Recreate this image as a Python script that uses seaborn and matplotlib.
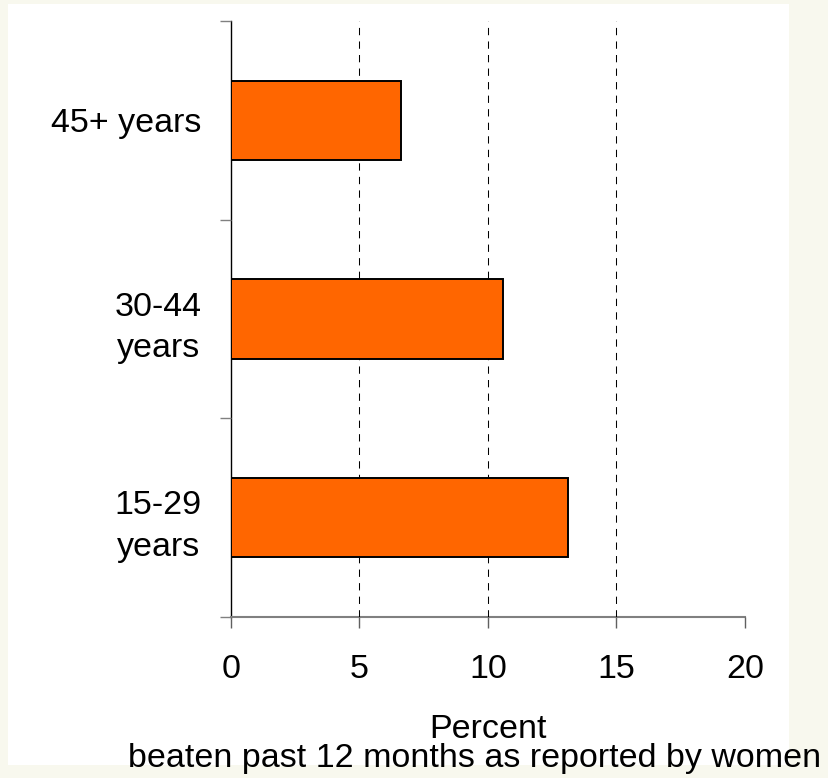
import matplotlib
matplotlib.use('Agg')
import matplotlib.pyplot as plt
import matplotlib.patches as mpatches
import seaborn as sns
import pandas as pd

# data, top to bottom
age_groups = ['45+ years', '30-44\nyears', '15-29\nyears']
percent = [6.6, 10.6, 13.1]

sns.set_style('white')
plt.rcParams['font.family'] = ['Liberation Sans', 'DejaVu Sans']
plt.rcParams['text.color'] = 'black'
plt.rcParams['xtick.color'] = 'black'
plt.rcParams['ytick.color'] = 'black'
plt.rcParams['axes.labelcolor'] = 'black'

df = pd.DataFrame({'age': age_groups, 'percent': percent})

W, H = 829, 778
FS = 24.5
fig = plt.figure(figsize=(W / 100, H / 100), dpi=100, facecolor='#F8F8EE')
# white plot area
fig.patches.append(mpatches.Rectangle((8 / W, 1 - 765 / H), (789 - 8) / W, (765 - 4) / H,
                                      transform=fig.transFigure, facecolor='white',
                                      edgecolor='none', zorder=-5))

ax = fig.add_axes([231 / W, 1 - 617 / H, (745 - 231) / W, (617 - 21) / H])
ax.set_facecolor('none')

sns.barplot(data=df, x='percent', y='age', orient='h', color='#FF6600',
            saturation=1, width=0.4, edgecolor='black', linewidth=1.4, ax=ax, zorder=3)

ax.set_xlim(0, 20)
ax.set_ylim(2.5, -0.5)
ax.set_xticks([0, 5, 10, 15, 20])
ax.set_xticklabels(['0', '5', '10', '15', '20'], fontsize=FS)

ax.set_yticks([-0.5, 0.5, 1.5, 2.5])
ax.set_yticklabels([])
ax.set_yticks([0, 1, 2], minor=True)
ax.set_yticklabels(age_groups, minor=True, fontsize=FS, multialignment='center')
for lab in ax.get_yticklabels(minor=True):
    lab.set_linespacing(1.45)
ax.tick_params(axis='y', which='minor', length=0, pad=21)
ax.tick_params(axis='y', which='major', length=8, width=1, color='#808080', left=True)
ax.tick_params(axis='x', length=8, width=1, color='#606060', bottom=True, pad=19)

# dashed vertical grid
ax.xaxis.grid(True, color='black', linewidth=0.75, linestyle=(0, (7, 6)))
ax.yaxis.grid(False)
gl = ax.get_xgridlines()
gl[0].set_visible(False)
gl[-1].set_visible(False)
ax.set_axisbelow(False)

for s in ['top', 'right']:
    ax.spines[s].set_visible(False)
ax.spines['left'].set_color('black')
ax.spines['left'].set_linewidth(1)
ax.spines['bottom'].set_color('#808080')
ax.spines['bottom'].set_linewidth(1.5)

ax.set_ylabel('')
ax.set_xlabel('Percent', fontsize=FS)
ax.xaxis.label.set_va('baseline')
ax.xaxis.set_label_coords(0.5, (617 - 738) / (617 - 21))

fig.text(475 / W, 1 - 767 / H, 'beaten past 12 months as reported by women',
         fontsize=FS, ha='center', va='baseline')

fig.savefig('out.png', dpi=100, facecolor=fig.get_facecolor())
